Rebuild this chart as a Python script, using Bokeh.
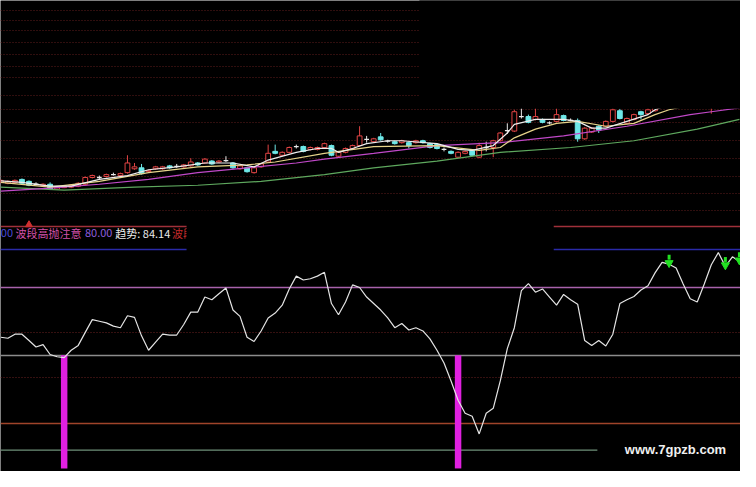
import numpy as np
from bokeh.plotting import figure
from bokeh.models import Range1d
from bokeh.core.properties import value
from bokeh.embed import file_html
from bokeh.resources import INLINE

# ---------------- price panel data (bar index 0..105) ----------------
opens = [6.2, 6.1, 6.2, 6.5, 6.3, 6.0, 5.85, 6.0, 5.5, 5.65,
         5.7, 5.8, 6.0, 6.7, 6.7, 6.8, 7.0, 6.9, 7.2, 7.6,
         7.7, 7.3, 7.6, 7.6, 7.9, 7.85, 7.8, 7.9, 8.2, 8.2,
         8.4, 8.3, 8.45, 8.2, 7.6, 7.7, 7.2, 7.8, 8.3, 9.4,
         9.0, 9.3, 9.9, 9.9, 9.6, 9.6, 9.8, 10.0, 8.9, 9.3,
         9.7, 10.0, 10.65, 10.4, 10.9, 10.45, 10.4, 10.3, 10.3, 10.3,
         10.5, 10.2, 10.1, 9.6, 9.4, 8.8, 9.2, 9.5, 8.8, 9.8,
         9.8, 10.5, 11.55, 11.5, 13.0, 13.0, 12.7, 12.7, 12.35, 12.5,
         13.1, 12.6, 12.6, 10.7, 11.4, 12.0, 12.0, 12.5, 13.6, 12.3,
         12.7, 13.5, 13.3, 13.6, 14.5, 14.4, 14.7, 15.1, 14.9, 15.2,
         15.5, 14.0, 14.8, 15.3, 15.2, 15.4]
closes = [6.4, 6.3, 6.4, 6.1, 5.9, 6.0, 6.0, 5.5, 5.7, 5.8,
          5.9, 6.1, 6.7, 6.9, 6.7, 7.0, 7.0, 7.1, 8.2, 7.8,
          7.1, 7.4, 7.8, 7.8, 7.7, 7.85, 8.0, 8.3, 8.0, 8.6,
          8.1, 8.4, 8.45, 7.7, 7.9, 7.3, 7.7, 8.1, 9.2, 9.2,
          9.3, 9.8, 9.9, 9.4, 9.8, 9.8, 10.2, 9.0, 9.3, 9.7,
          10.0, 11.0, 10.65, 10.7, 10.6, 10.45, 10.2, 10.5, 10.0, 10.5,
          10.3, 9.8, 9.7, 9.6, 9.2, 9.3, 9.4, 9.0, 10.0, 9.8,
          10.5, 11.3, 11.55, 13.5, 13.0, 12.4, 13.0, 12.4, 12.35, 13.2,
          12.6, 12.6, 10.7, 11.8, 11.8, 11.6, 12.5, 13.7, 12.8, 12.8,
          13.2, 13.2, 13.7, 14.2, 14.0, 15.0, 15.2, 14.6, 15.4, 15.6,
          15.0, 15.0, 15.4, 14.9, 15.7, 15.8]
highs = [6.5, 6.4, 6.5, 6.6, 6.4, 6.2, 6.1, 6.2, 5.8, 5.9,
         6.0, 6.2, 6.8, 7.0, 6.9, 7.1, 7.2, 7.2, 9.0, 8.2,
         8.1, 7.5, 7.9, 7.9, 8.0, 8.1, 8.1, 8.7, 8.3, 8.7,
         8.5, 8.5, 8.9, 8.3, 8.0, 7.8, 7.8, 8.2, 10.1, 10.1,
         9.4, 9.9, 10.1, 10.0, 9.9, 9.9, 10.3, 10.1, 9.4, 9.8,
         10.1, 12.0, 11.0, 10.8, 11.3, 10.6, 10.5, 10.6, 10.4, 10.6,
         10.6, 10.3, 10.2, 9.8, 9.5, 9.4, 9.5, 9.6, 10.3, 10.4,
         10.6, 11.4, 12.3, 13.7, 14.0, 13.2, 14.0, 12.8, 12.5, 14.0,
         13.2, 12.8, 12.8, 11.9, 11.9, 12.1, 12.6, 14.0, 13.8, 12.9,
         13.3, 13.6, 13.9, 14.4, 14.6, 15.1, 15.3, 15.2, 15.5, 15.7,
         15.6, 15.2, 15.5, 15.4, 15.8, 15.9]
lows = [6.1, 6.0, 6.1, 6.0, 5.8, 5.9, 5.8, 5.4, 5.4, 5.6,
        5.6, 5.7, 5.9, 6.6, 6.55, 6.7, 6.9, 6.8, 7.1, 7.5,
        7.0, 7.2, 7.5, 7.5, 7.6, 7.7, 7.7, 7.8, 7.9, 8.1,
        8.0, 8.2, 8.3, 7.6, 7.5, 7.2, 7.1, 7.7, 8.2, 9.1,
        8.9, 9.2, 9.7, 9.3, 9.5, 9.5, 9.7, 8.9, 8.8, 9.2,
        9.6, 9.9, 10.3, 10.3, 10.5, 10.3, 10.1, 10.2, 9.7, 10.2,
        10.2, 9.7, 9.6, 9.4, 9.1, 8.7, 9.1, 8.9, 8.7, 9.4,
        8.8, 10.4, 11.2, 11.4, 12.8, 12.3, 12.6, 12.3, 12.2, 12.4,
        12.5, 12.5, 10.4, 10.6, 11.3, 11.3, 11.9, 12.4, 12.7, 12.2,
        12.6, 12.7, 13.2, 13.5, 13.9, 14.3, 14.6, 14.5, 14.8, 15.1,
        14.9, 13.3, 14.7, 14.8, 15.1, 15.3]

# moving-average lines, read at the bars where they bend
ma5_idx = [0, 3, 7, 10, 14, 18, 21, 25, 29, 33, 36, 38, 42, 45, 47, 48, 50, 52, 55, 57,
           62, 65, 67, 70, 72, 73, 76, 80, 82, 84, 86, 89, 92, 93, 96, 100, 105]
ma5_val = [6.35, 6.2, 5.8, 5.8, 6.5, 6.9, 7.5, 7.8, 8.2, 8.2, 7.8, 8.5, 9.3, 9.7, 9.7, 9.3,
           9.7, 10.2, 10.5, 10.5, 10.2, 9.6, 9.5, 10.0, 11.3, 12.2, 12.7, 12.7, 12.5, 11.8,
           11.8, 12.5, 13.2, 13.7, 14.5, 15.0, 15.3]
ma10_idx = [0, 7, 14, 21, 28, 35, 39, 46, 53, 62, 68, 71, 73, 76, 79, 82, 86, 90, 93, 95, 100, 105]
ma10_val = [6.2, 5.7, 6.3, 7.2, 7.8, 8.0, 8.3, 9.2, 9.9, 10.0, 9.5, 9.8, 10.8, 11.7, 12.3,
            12.5, 12.0, 12.3, 13.2, 13.7, 14.5, 15.0]
ma20_idx = [0, 7, 14, 21, 28, 35, 42, 46, 53, 62, 71, 80, 89, 98, 101, 105]
ma20_val = [5.3, 5.6, 6.0, 6.5, 7.2, 7.7, 8.2, 8.6, 9.2, 10.0, 10.3, 11.0, 12.0, 13.2, 13.5, 13.9]
ma60_idx = [0, 9, 19, 28, 37, 46, 53, 62, 71, 81, 90, 99, 105]
ma60_val = [5.7, 5.4, 5.7, 5.9, 6.3, 7.0, 7.7, 8.4, 9.3, 9.8, 10.5, 11.7, 12.7]

price_grid = [24.0, 22.9, 21.9, 20.7, 19.4, 18.2, 17.0, 15.2, 13.75, 12.4, 10.5, 8.7, 6.8, 5.0, 3.3]

# ---------------- indicator panel data ----------------
trend = [55.6, 55.1, 57.1, 57.1, 54.0, 50.8, 52.0, 47.1, 46.0, 45.6,
         49.2, 51.6, 58.0, 64.3, 63.5, 62.7, 61.1, 60.3, 66.2, 65.4,
         56.3, 49.2, 53.2, 57.1, 56.7, 56.7, 61.9, 68.0, 68.0, 75.4,
         74.1, 77.0, 79.9, 69.0, 65.9, 55.6, 53.5, 58.7, 65.1, 67.5,
         71.4, 79.4, 85.7, 83.8, 84.4, 85.7, 87.6, 72.2, 66.7, 73.0,
         81.4, 80.1, 75.4, 72.2, 69.0, 65.1, 60.3, 62.4, 59.2, 60.3,
         58.7, 54.8, 49.2, 42.9, 34.1, 24.6, 18.2, 16.7, 8.0, 18.2,
         20.6, 34.1, 50.0, 60.3, 78.6, 82.0, 77.8, 79.4, 75.4, 71.4,
         76.7, 74.1, 71.9, 54.0, 51.6, 54.0, 51.3, 57.1, 72.2, 74.1,
         75.7, 78.9, 81.0, 87.3, 92.5, 91.6, 89.7, 81.8, 74.6, 73.0,
         81.8, 91.3, 97.3, 90.5, 95.2, 92.9]
buy_idx = [9, 65]
buy_top = 46.7
buy_bottom = -9.0
sell_idx = [95, 103, 105]
levels_solid = [110.0, 98.6, 80.0, 46.7, 13.3]
levels_colors = ["#a0303a", "#2a2aa8", "#a862ac", "#8c8c8c", "#a0442a"]
levels_dotted = [58.1, 35.7]
level_zero = 0.0
high_sell_level = "80.00"
trend_now = "84.14"

N = len(opens)
x = np.arange(N)
o = np.array(opens); c = np.array(closes); h = np.array(highs); l = np.array(lows)
up = c > o
dn = c < o
dj = c == o

RED = "#e04444"
CYAN = "#6ee8e8"
BG = "black"
XR = (-0.05, 105.15)

# one figure, two vertical scales: price (upper part) and indicator (lower part)
p = figure(width=740, height=471, x_range=Range1d(*XR), y_range=Range1d(-23.7, 25),
           x_axis_type=None, y_axis_type=None, output_backend="svg",
           toolbar_location=None, min_border=0, background_fill_color=BG,
           border_fill_color=BG, outline_line_color=None)
p.extra_y_ranges = {"ind": Range1d(-10.5, 221.43)}

# ---- price panel ----
for g in price_grid:
    p.hspan(y=[g], line_color="#5e1c1c", line_width=1, line_dash="1 2")

bw = 0.68
p.segment(x[up], h[up], x[up], l[up], line_color=RED, line_width=1)
p.vbar(x=x[up], width=bw, top=c[up], bottom=o[up], fill_color=BG, line_color=RED, line_width=1)
p.segment(x[dn], h[dn], x[dn], l[dn], line_color=CYAN, line_width=1)
p.vbar(x=x[dn], width=bw, top=o[dn], bottom=c[dn], fill_color=CYAN, line_color=CYAN, line_width=1)
p.segment(x[dj], h[dj], x[dj], l[dj], line_color="#e8e8e8", line_width=1)
p.segment(x[dj] - bw / 2, o[dj], x[dj] + bw / 2, o[dj], line_color="#e8e8e8", line_width=1.3)

p.line(ma60_idx, ma60_val, line_color="#5ea85e", line_width=1.2)
p.line(ma20_idx, ma20_val, line_color="#c048c8", line_width=1.2)
p.line(ma10_idx, ma10_val, line_color="#e6d48a", line_width=1.2)
p.line(ma5_idx, ma5_val, line_color="#ececec", line_width=1.2)

# black cover of the upper right corner
p.quad(left=[59.5], right=[107], bottom=[13.8], top=[26], fill_color=BG, line_color=None)

# ---- indicator panel ----
R = "ind"
for lv, col in zip(levels_solid, levels_colors):
    p.hspan(y=[lv], line_color=col, line_width=1.3, y_range_name=R)
for lv in levels_dotted:
    p.hspan(y=[lv], line_color="#6a2020", line_width=1, line_dash="1 2", y_range_name=R)
p.segment(x0=[XR[0]], y0=[level_zero], x1=[84.8], y1=[level_zero], line_color="#6e9078",
          line_width=1.3, y_range_name=R)

p.vbar(x=buy_idx, width=0.92, top=buy_top, bottom=buy_bottom, fill_color="#e020e0",
       line_color=None, y_range_name=R)
p.line(x, trend, line_color="#e4e4e4", line_width=1.2, y_range_name=R)

tr = np.array(trend)
si = np.array(sell_idx)
p.segment(si, tr[si] + 2.2, si, tr[si] + 4.6, line_color="#22e022", line_width=3, y_range_name=R)
p.scatter(si, tr[si] + 0.6, marker="inverted_triangle", size=8, fill_color="#22e022",
          line_color="#22e022", y_range_name=R)

p.scatter([4], [111.0], marker="triangle", size=7, fill_color="#d03030", line_color="#d03030",
          y_range_name=R)

ty = 106.7
font = value("Noto Sans CJK SC")
common = dict(text_font=font, text_font_size="11px", text_baseline="middle", y_range_name=R)
p.text([0], [ty], text=["00"], text_color="#4a4ad8", **common)
p.text([2.09], [ty], text=["波段高抛注意"], text_color="#d452aa", **common)
p.text([11.96], [ty], text=[high_sell_level], text_color="#8c5cdc", **common)
p.text([16.27], [ty], text=["趋势: " + trend_now], text_color="#ececec", **common)
p.text([24.34], [ty], text=["波段"], text_color="#c42a2a", **common)

# black cover behind the title row
p.quad(left=[26.4], right=[78.6], bottom=[96.7], top=[118], fill_color=BG, line_color=None,
       y_range_name=R)

p.text([88.7], [0.3], text=["www.7gpzb.com"], text_color="#f0f0f0", text_font=value("Liberation Sans"),
       text_font_size="13px", text_font_style="bold", text_baseline="middle", y_range_name=R)

open("out.html", "w").write(file_html(p, INLINE))
